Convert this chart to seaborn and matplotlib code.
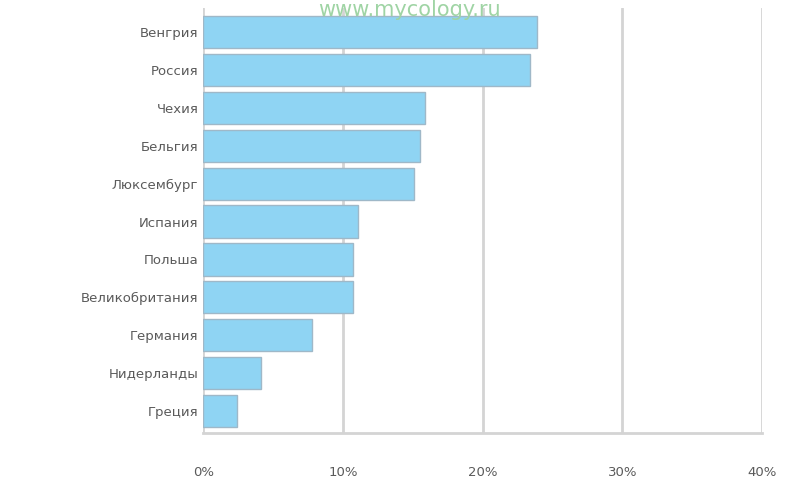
import pandas as pd
import matplotlib.pyplot as plt
import seaborn as sns
from matplotlib.ticker import FuncFormatter

countries = ["Венгрия", "Россия", "Чехия", "Бельгия", "Люксембург", "Испания",
             "Польша", "Великобритания", "Германия", "Нидерланды", "Греция"]
shares = [23.9, 23.4, 15.9, 15.5, 15.1, 11.1, 10.7, 10.7, 7.8, 4.1, 2.4]

df = pd.DataFrame({"country": countries, "share": shares})

sns.set_style("white")
plt.rcParams["font.family"] = ["DejaVu Sans"]

fig = plt.figure(figsize=(7.88, 4.8), dpi=100)
ax = fig.add_axes([0.258, 0.098, 0.709, 0.885])

sns.barplot(data=df, x="share", y="country", orient="h", color="#8fd4f3",
            saturation=1, width=0.85, edgecolor="#9fb8c8", linewidth=1, ax=ax)

ax.set_xlim(0, 40)
ax.set_ylim(10.58, -0.63)
ax.set_xticks([0, 10, 20, 30, 40])
ax.xaxis.set_major_formatter(FuncFormatter(lambda v, p: f"{v:.0f}%"))
ax.grid(axis="x", color="#d4d4d4", linewidth=2)
ax.set_axisbelow(True)
for s in ["top", "right", "left"]:
    ax.spines[s].set_visible(False)
ax.spines["bottom"].set_color("#d4d4d4")
ax.spines["bottom"].set_linewidth(2)
ax.tick_params(axis="both", length=0, labelsize=9.5, labelcolor="#5a5a5a")
ax.tick_params(axis="x", pad=24)
ax.set_xlabel("")
ax.set_ylabel("")

fig.text(0.52, 0.999, "www.mycology.ru", ha="center", va="top",
         fontsize=15, color="#9fd4a4", zorder=5)

fig.savefig("out.png", dpi=100)
